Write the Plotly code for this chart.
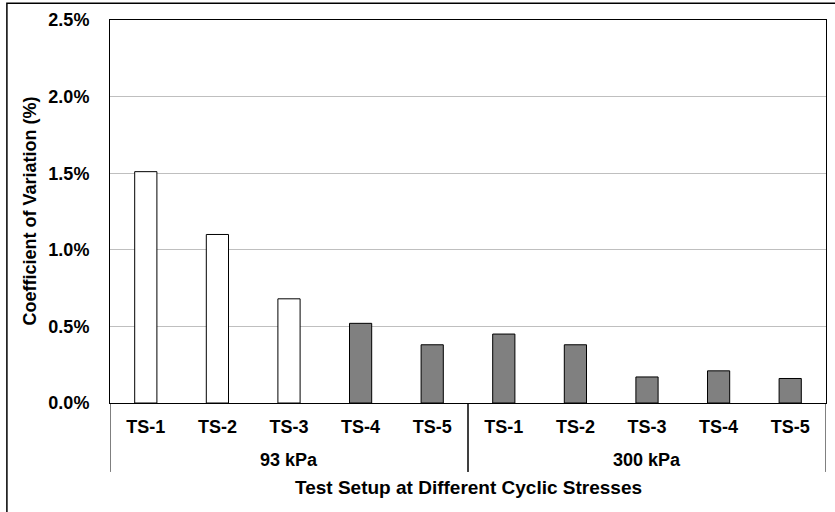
import plotly.graph_objects as go

# data
stress_groups = ["93 kPa"] * 5 + ["300 kPa"] * 5
test_setups = ["TS-1", "TS-2", "TS-3", "TS-4", "TS-5"] * 2
cov_values = [0.0151, 0.0110, 0.0068, 0.0052, 0.0038,
              0.0045, 0.0038, 0.0017, 0.0021, 0.0016]
bar_colors = ["white"] * 3 + ["#808080"] * 7

font_family = "Arial, Liberation Sans, sans-serif"
positions = list(range(len(cov_values)))

fig = go.Figure()
fig.add_trace(go.Bar(
    x=positions,
    y=cov_values,
    marker=dict(color=bar_colors, line=dict(color="black", width=1)),
    width=0.31,
    showlegend=False,
))

fig.update_layout(
    width=835,
    height=512,
    margin=dict(l=110, r=9, t=20, b=109),
    paper_bgcolor="white",
    plot_bgcolor="white",
    font=dict(family=font_family, size=18, color="black", weight="bold"),
    xaxis=dict(
        range=[-0.5, len(cov_values) - 0.5],
        tickvals=positions,
        ticktext=test_setups,
        showline=True,
        linecolor="black",
        linewidth=1,
        mirror=True,
        showgrid=False,
        zeroline=False,
        ticks="",
        automargin=False,
        ticklabelstandoff=7,
        tickfont=dict(size=18, weight="bold"),
    ),
    yaxis=dict(
        range=[0, 0.025],
        dtick=0.005,
        tickformat=".1%",
        showline=True,
        linecolor="black",
        linewidth=1,
        mirror=True,
        showgrid=True,
        gridcolor="#bfbfbf",
        gridwidth=1,
        zeroline=False,
        ticks="",
        automargin=False,
        ticklabelstandoff=16,
        tickfont=dict(size=18, weight="bold"),
    ),
)

# group labels and dividers for the two cyclic stress levels
groups = list(dict.fromkeys(stress_groups))
for g in groups:
    idx = [i for i, s in enumerate(stress_groups) if s == g]
    fig.add_annotation(x=(idx[0] + idx[-1]) / 2, y=0, xref="x", yref="paper",
                       text=g, showarrow=False, yshift=-57,
                       xanchor="center", yanchor="middle",
                       font=dict(size=18, weight="bold"))
    for edge in (idx[0] - 0.5, idx[-1] + 0.5):
        fig.add_shape(type="line", xref="x", yref="paper",
                      x0=edge, x1=edge, y0=0, y1=-0.18,
                      line=dict(color="black", width=1))

# axis titles
fig.add_annotation(x=0.5, y=0, xref="paper", yref="paper",
                   text="Test Setup at Different Cyclic Stresses",
                   showarrow=False, yshift=-84,
                   xanchor="center", yanchor="middle",
                   font=dict(size=19, weight="bold"))
fig.add_annotation(x=0, y=0.5, xref="paper", yref="paper",
                   text="Coefficient of Variation (%)", textangle=-90,
                   showarrow=False, xshift=-81,
                   xanchor="center", yanchor="middle",
                   font=dict(size=18, weight="bold"))

# outer chart border
fig.add_shape(type="rect", xref="paper", yref="paper",
              x0=-0.144, x1=1.05, y0=-0.35, y1=1.044,
              line=dict(color="black", width=1.5), fillcolor="rgba(0,0,0,0)")

# drop the default page margin so the figure sits at the window corner
fig.write_html("out.html", config={"displayModeBar": False},
               post_script="document.body.style.margin='0';")
